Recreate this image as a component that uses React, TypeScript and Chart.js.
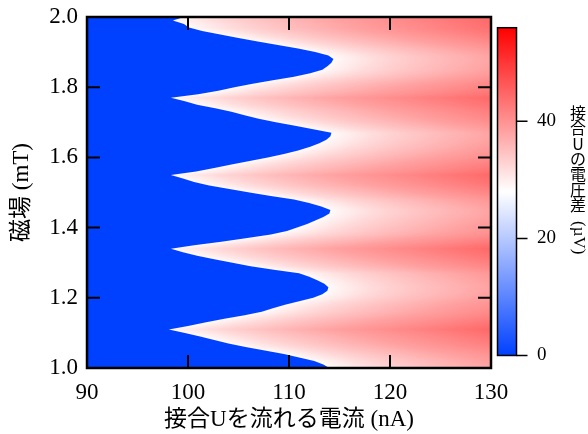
import React, { useEffect, useRef } from "react";
import { Chart, registerables } from "chart.js";

Chart.register(...registerables);

// ---- data ----
// magnetic field rows (mT)
const fieldRows = [
  1.00, 1.01, 1.02, 1.03, 1.04, 1.05, 1.06, 1.07, 1.08, 1.09,
  1.10, 1.11, 1.12, 1.13, 1.14, 1.15, 1.16, 1.17, 1.18, 1.19,
  1.20, 1.21, 1.22, 1.23, 1.24, 1.25, 1.26, 1.27, 1.28, 1.29,
  1.30, 1.31, 1.32, 1.33, 1.34, 1.35, 1.36, 1.37, 1.38, 1.39,
  1.40, 1.41, 1.42, 1.43, 1.44, 1.45, 1.46, 1.47, 1.48, 1.49,
  1.50, 1.51, 1.52, 1.53, 1.54, 1.55, 1.56, 1.57, 1.58, 1.59,
  1.60, 1.61, 1.62, 1.63, 1.64, 1.65, 1.66, 1.67, 1.68, 1.69,
  1.70, 1.71, 1.72, 1.73, 1.74, 1.75, 1.76, 1.77, 1.78, 1.79,
  1.80, 1.81, 1.82, 1.83, 1.84, 1.85, 1.86, 1.87, 1.88, 1.89,
  1.90, 1.91, 1.92, 1.93, 1.94, 1.95, 1.96, 1.97, 1.98, 1.99,
  2.00,
];

// current (nA) where the junction leaves the zero-voltage state, per field row
const criticalCurrent = [
  114.0, 113.4, 112.5, 111.0, 109.5, 107.6, 105.7, 104.0, 102.6, 101.2,
  99.7, 98.1, 100.0, 101.8, 103.6, 105.6, 107.3, 108.4, 109.6, 111.0,
  112.4, 113.3, 113.8, 113.9, 113.5, 112.8, 112.0, 111.0, 108.5, 106.2,
  104.4, 102.6, 100.9, 99.5, 98.3, 100.6, 103.3, 105.7, 108.2, 109.8,
  110.8, 111.8, 112.6, 113.4, 114.0, 114.1, 113.2, 112.0, 110.5, 108.2,
  106.1, 104.1, 102.1, 100.6, 99.5, 98.3, 100.8, 102.6, 104.3, 106.1,
  107.9, 109.5, 110.9, 112.1, 113.0, 113.7, 114.1, 114.2, 112.4, 110.6,
  108.7, 107.0, 105.6, 104.3, 102.7, 100.9, 99.7, 98.3, 101.0, 103.0,
  104.6, 106.4, 108.4, 110.5, 112.1, 113.3, 113.8, 114.2, 114.4, 113.9,
  112.6, 110.9, 108.9, 106.9, 105.0, 103.2, 101.4, 100.1, 99.6, 98.5,
  99.6,
];

// voltage (µV) vs. excess current above the critical current, 1 nA steps
const voltageAboveIc = [
  28.5, 29.4, 30.2, 31.0, 31.7, 32.4, 33.0, 33.6, 34.2, 34.7,
  35.2, 35.7, 36.2, 36.7, 37.2, 37.7, 38.2, 38.6, 39.0, 39.4,
  39.8, 40.2, 40.6, 41.0, 41.4, 41.8, 42.2, 42.6, 43.0, 43.4,
  43.8, 44.2, 44.6,
];

const xTicks = [90, 100, 110, 120, 130];
const yTicks = [1.0, 1.2, 1.4, 1.6, 1.8, 2.0];
const cbarTicks = [0, 20, 40];

const X_MIN = 90;
const X_MAX = 130;
const Y_MIN = 1.0;
const Y_MAX = 2.0;
const V_MAX = 56;

const X_TITLE = "接合Uを流れる電流 (nA)";
const Y_TITLE = "磁場 (mT)";
const CBAR_TITLE_CJK = "接合Uの電圧差";
const CBAR_TITLE_UNIT = "(µV)";

const SERIF = "'Liberation Serif', 'Times New Roman', 'DejaVu Serif', serif";
const MIXED = "'Liberation Serif', 'Noto Sans CJK JP', serif";

// ---- colour map: blue -> white -> red ----
const BLUE = [0, 64, 255];
const RED = [255, 0, 0];
function colorFor(v: number): string {
  const mid = V_MAX / 2;
  let r: number, g: number, b: number;
  if (v <= mid) {
    const f = Math.max(0, v / mid);
    r = BLUE[0] + (255 - BLUE[0]) * f;
    g = BLUE[1] + (255 - BLUE[1]) * f;
    b = BLUE[2] + (255 - BLUE[2]) * f;
  } else {
    const f = Math.min(1, (v - mid) / mid);
    r = 255 + (RED[0] - 255) * f;
    g = 255 + (RED[1] - 255) * f;
    b = 255 + (RED[2] - 255) * f;
  }
  return `rgb(${Math.round(r)},${Math.round(g)},${Math.round(b)})`;
}

// critical current at an arbitrary field, between the measured rows
function icAt(b: number): number {
  if (b <= fieldRows[0]) return criticalCurrent[0];
  const n = fieldRows.length;
  if (b >= fieldRows[n - 1]) return criticalCurrent[n - 1];
  for (let i = 0; i < n - 1; i++) {
    if (b <= fieldRows[i + 1]) {
      const t = (b - fieldRows[i]) / (fieldRows[i + 1] - fieldRows[i]);
      return criticalCurrent[i] + (criticalCurrent[i + 1] - criticalCurrent[i]) * t;
    }
  }
  return criticalCurrent[n - 1];
}

const heatmapPlugin = {
  id: "heatmap",
  beforeDatasetsDraw(chart: any) {
    const { ctx, chartArea: a, scales } = chart;
    const xs = scales.x;
    const ys = scales.y;
    ctx.save();
    ctx.beginPath();
    ctx.rect(a.left, a.top, a.right - a.left, a.bottom - a.top);
    ctx.clip();
    const x0 = xs.getPixelForValue(X_MIN);
    const x1 = xs.getPixelForValue(X_MAX);
    for (let py = Math.floor(a.top); py < Math.ceil(a.bottom); py++) {
      const b = ys.getValueForPixel(py + 0.5);
      const ic = icAt(b);
      const gs = xs.getPixelForValue(ic);
      const ge = xs.getPixelForValue(ic + voltageAboveIc.length - 1);
      const grad = ctx.createLinearGradient(gs, 0, ge, 0);
      voltageAboveIc.forEach((v, k) => {
        grad.addColorStop(k / (voltageAboveIc.length - 1), colorFor(v));
      });
      ctx.fillStyle = grad;
      ctx.fillRect(x0, py, x1 - x0, 1.2);
    }
    ctx.beginPath();
    ctx.moveTo(x0, ys.getPixelForValue(fieldRows[0]));
    fieldRows.forEach((b, i) => {
      ctx.lineTo(xs.getPixelForValue(criticalCurrent[i]), ys.getPixelForValue(b));
    });
    ctx.lineTo(x0, ys.getPixelForValue(fieldRows[fieldRows.length - 1]));
    ctx.closePath();
    ctx.fillStyle = colorFor(0);
    ctx.fill();
    ctx.restore();
  },
  afterDatasetsDraw(chart: any) {
    const { ctx, chartArea: a, scales } = chart;
    const xs = scales.x;
    const ys = scales.y;
    const cs = scales.cbar;
    ctx.save();
    ctx.strokeStyle = "#000";
    ctx.lineWidth = 2.5;
    ctx.strokeRect(a.left, a.top, a.right - a.left, a.bottom - a.top);
    const tl = 13;
    ctx.lineWidth = 2;
    ctx.beginPath();
    xTicks.forEach((t) => {
      const px = xs.getPixelForValue(t);
      ctx.moveTo(px, a.bottom);
      ctx.lineTo(px, a.bottom - tl);
      ctx.moveTo(px, a.top);
      ctx.lineTo(px, a.top + tl);
    });
    yTicks.forEach((t) => {
      const py = ys.getPixelForValue(t);
      ctx.moveTo(a.left, py);
      ctx.lineTo(a.left + tl, py);
      ctx.moveTo(a.right, py);
      ctx.lineTo(a.right - tl, py);
    });
    ctx.stroke();

    // colour bar
    const barL = a.right + 6.5;
    const barR = a.right + 25.5;
    const y0 = cs.getPixelForValue(0);
    const y1 = cs.getPixelForValue(V_MAX);
    const grad = ctx.createLinearGradient(0, y0, 0, y1);
    grad.addColorStop(0, colorFor(0));
    grad.addColorStop(0.5, colorFor(V_MAX / 2));
    grad.addColorStop(1, colorFor(V_MAX));
    ctx.fillStyle = grad;
    ctx.fillRect(barL, y1, barR - barL, y0 - y1);
    ctx.lineWidth = 1.5;
    ctx.strokeStyle = "#000";
    ctx.strokeRect(barL, y1, barR - barL, y0 - y1);
    ctx.beginPath();
    cbarTicks.forEach((t) => {
      const py = cs.getPixelForValue(t);
      ctx.moveTo(barR, py);
      ctx.lineTo(barR + 11, py);
    });
    ctx.stroke();

    // colour bar title, vertical writing
    ctx.fillStyle = "#000";
    ctx.font = "16px 'Noto Sans CJK JP'";
    ctx.textAlign = "center";
    ctx.textBaseline = "middle";
    const cx = 578;
    let cy = 113;
    for (const ch of Array.from(CBAR_TITLE_CJK)) {
      ctx.fillText(ch, cx, cy);
      cy += 15.3;
    }
    ctx.save();
    ctx.translate(cx, cy + 1);
    ctx.rotate(Math.PI / 2);
    ctx.font = `17px ${SERIF}`;
    ctx.textAlign = "left";
    ctx.fillText(CBAR_TITLE_UNIT, 0, 0);
    ctx.restore();
    ctx.restore();
  },
};

const noEdgePadding = (s: any) => {
  s.paddingTop = 0;
  s.paddingBottom = 0;
};

export default function App() {
  const ref = useRef<HTMLCanvasElement | null>(null);
  useEffect(() => {
    if (!ref.current) return;
    let chart: Chart | null = null;
    let cancelled = false;
    const build = () => {
      if (cancelled || !ref.current) return;
      const tickFont = { family: SERIF, size: 23 };
      const titleFont = { family: MIXED, size: 23 };
      chart = new Chart(ref.current, {
        type: "scatter",
        data: { datasets: [] },
        options: {
          animation: false,
          responsive: false,
          devicePixelRatio: 1,
          layout: { padding: { top: 17, left: 0, right: 0, bottom: 0 } },
          plugins: { legend: { display: false }, tooltip: { enabled: false } },
          scales: {
            x: {
              type: "linear",
              position: "bottom",
              min: X_MIN,
              max: X_MAX,
              afterBuildTicks: (s: any) => {
                s.ticks = xTicks.map((v) => ({ value: v }));
              },
              afterFit: (s: any) => {
                s.height = 66;
              },
              grid: { display: false, drawTicks: false },
              border: { display: false },
              ticks: { color: "#000", font: tickFont, padding: 11, maxRotation: 0, callback: (v: any) => String(v) },
              title: { display: true, text: X_TITLE, color: "#000", font: titleFont, padding: { top: 0, bottom: 0 } },
            },
            y: {
              type: "linear",
              position: "left",
              min: Y_MIN,
              max: Y_MAX,
              afterBuildTicks: (s: any) => {
                s.ticks = yTicks.map((v) => ({ value: v }));
              },
              afterFit: (s: any) => {
                s.width = 87;
                noEdgePadding(s);
              },
              grid: { display: false, drawTicks: false },
              border: { display: false },
              ticks: { color: "#000", font: tickFont, padding: 9, callback: (v: any) => Number(v).toFixed(1) },
              title: { display: true, text: Y_TITLE, color: "#000", font: titleFont, padding: { top: 8, bottom: 0 } },
            },
            cbar: {
              type: "linear",
              axis: "y",
              position: "right",
              min: -2.14,
              max: 57.83,
              afterBuildTicks: (s: any) => {
                s.ticks = cbarTicks.map((v) => ({ value: v }));
              },
              afterFit: (s: any) => {
                s.width = 97;
                noEdgePadding(s);
              },
              grid: { display: false, drawTicks: false },
              border: { display: false },
              ticks: { color: "#000", font: { family: SERIF, size: 19 }, padding: 46, callback: (v: any) => String(v) },
            },
          },
        } as any,
        plugins: [heatmapPlugin],
      });
    };
    const fonts: any = (document as any).fonts;
    if (fonts && fonts.load) {
      Promise.all([
        fonts.load("23px 'Liberation Serif'"),
        fonts.load("16px 'Noto Sans CJK JP'", "接合"),
      ])
        .catch(() => null)
        .then(build);
    } else {
      build();
    }
    return () => {
      cancelled = true;
      if (chart) chart.destroy();
    };
  }, []);
  return (
    <div style={{ position: "fixed", left: 0, top: 0, width: 588, height: 434, background: "#fff" }}>
      <canvas ref={ref} width={588} height={434} />
    </div>
  );
}
